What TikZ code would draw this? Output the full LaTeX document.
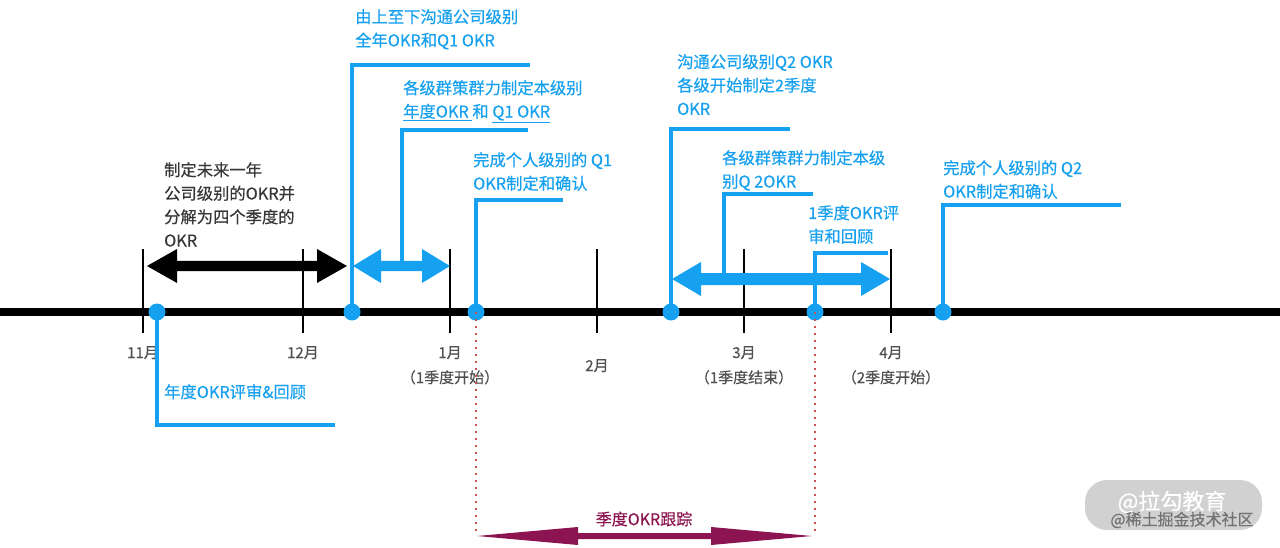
\documentclass[tikz,border=0pt]{standalone}
\usepackage{fontspec}
\setmainfont{Noto Sans CJK SC}[FakeBold=0.4]
\definecolor{okrblue}{RGB}{22,160,240}
\definecolor{okrgray}{RGB}{80,80,80}
\definecolor{okrdark}{RGB}{55,55,55}
\definecolor{okrmaroon}{RGB}{140,20,80}
\definecolor{okrred}{RGB}{205,80,80}
\newcommand\okrDoubleArrow[7]{%
  \fill[#7] (#1,#3) -- (#1+#4,#3-#5) -- (#1+#4,#3-#6) -- (#2-#4,#3-#6) -- (#2-#4,#3-#5) -- (#2,#3)
    -- (#2-#4,#3+#5) -- (#2-#4,#3+#6) -- (#1+#4,#3+#6) -- (#1+#4,#3+#5) -- cycle;}
\begin{document}
\begin{tikzpicture}[x=1pt,y=-1pt,
  bluelabel/.style={text=okrblue, font=\fontsize{16.3}{23.5}\selectfont, align=left, anchor=north west, inner sep=0pt},
  darklabel/.style={text=okrdark, font=\fontsize{16.3}{23.5}\selectfont, align=left, anchor=north west, inner sep=0pt},
  monthlabel/.style={text=okrgray, font=\fontsize{15}{25}\selectfont, align=center, anchor=north, inner sep=0pt},
  okrdot/.style={circle, fill=okrblue, minimum size=17pt, inner sep=0pt},
  bracketline/.style={draw=okrblue, line width=3.8pt},
  tickline/.style={draw=black, line width=1.3pt},
  trackline/.style={draw=okrred, line width=1.5pt, dash pattern=on 1.5pt off 5.5pt}]
\useasboundingbox (0,0) rectangle (1280,548);
\fill[white] (0,0) rectangle (1280,548);

% ticks
\foreach \tx in {143,303,450,597,744,891}{\draw[tickline] (\tx,249) -- (\tx,333);}
% timeline
\draw[line width=8.5pt] (0,312) -- (1280,312);

% month labels
\node[monthlabel] (m11) at (143,346) {11月};
\node[monthlabel] (m12) at (303,346) {12月};
\node[monthlabel] (m1) at (450,346) {1月\\（1季度开始）};
\node[monthlabel] (m2) at (597,359) {2月};
\node[monthlabel] (m3) at (744,346) {3月\\（1季度结束）};
\node[monthlabel] (m4) at (891,346) {4月\\（2季度开始）};

% double arrows
\okrDoubleArrow{147}{347}{266}{30}{17}{5}{black}
\okrDoubleArrow{353}{450}{266}{28}{17}{5}{okrblue}
\okrDoubleArrow{672}{890}{279}{29}{17}{6}{okrblue}
\okrDoubleArrow{477}{812}{536}{101}{9}{3}{okrmaroon}
\coordinate (a1) at (402,266);
\coordinate (a2) at (724,279);

% dots
\node[okrdot] (d1) at (157,312) {};
\node[okrdot] (d2) at (352,312) {};
\node[okrdot] (d3) at (476,312) {};
\node[okrdot] (d4) at (671,312) {};
\node[okrdot] (d5) at (815,312) {};
\node[okrdot] (d6) at (943,312) {};

% bracket ends
\coordinate (e1) at (335,425);
\coordinate (e2) at (530,65);
\coordinate (e3) at (528,130);
\coordinate (e4) at (563,200);
\coordinate (e5) at (790,129);
\coordinate (e6) at (813,194);
\coordinate (e7) at (888,253);
\coordinate (e8) at (1121,205);

\draw[bracketline] (d1.center) |- (e1);
\draw[bracketline] (d2.center) |- (e2);
\draw[bracketline] (a1) |- (e3);
\draw[bracketline] (d3.center) |- (e4);
\draw[bracketline] (d4.center) |- (e5);
\draw[bracketline] (a2) |- (e6);
\draw[bracketline] (d5.center) |- (e7);
\draw[bracketline] (d6.center) |- (e8);

% dotted tracking lines
\coordinate (k1) at (476,533);
\coordinate (k2) at (815,533);
\draw[trackline] (d3.center) -- (k1);
\draw[trackline] (d5.center) -- (k2);

% labels
\node[darklabel] (ldark) at (164,162) {制定未来一年\\公司级别的OKR并\\分解为四个季度的\\OKR};
\node[bluelabel] (lh) at (164,384) {年度OKR评审\&回顾};
\node[bluelabel] (la) at (355,9) {由上至下沟通公司级别\\全年OKR和Q1 OKR};
\node[bluelabel] (lb) at (403,80) {各级群策群力制定本级别\\\underline{年度OKR }和 \underline{Q1 OKR}};
\node[bluelabel] (lc) at (473,152) {完成个人级别的 Q1\\OKR制定和确认};
\node[bluelabel] (ld) at (677,54) {沟通公司级别Q2 OKR\\各级开始制定2季度\\OKR};
\node[bluelabel] (le) at (722,150) {各级群策群力制定本级\\别Q 2OKR};
\node[bluelabel] (lf) at (808,205) {1季度OKR评\\审和回顾};
\node[bluelabel] (lg) at (943,160) {完成个人级别的 Q2\\OKR制定和确认};
\node[text=okrmaroon, font=\fontsize{16}{20}\selectfont, inner sep=0pt] (lt) at (644,519) {季度OKR跟踪};

% watermark
\fill[black!18, rounded corners=22pt] (1085,480) rectangle (1262,530);
\node[text=white, font=\fontsize{22}{24}\selectfont, inner sep=0pt] (w1) at (1172,502) {@拉勾教育};
\node[text=black!55, font=\fontsize{16}{18}\selectfont, inner sep=0pt] (w2) at (1182,520) {@稀土掘金技术社区};
\end{tikzpicture}
\end{document}
